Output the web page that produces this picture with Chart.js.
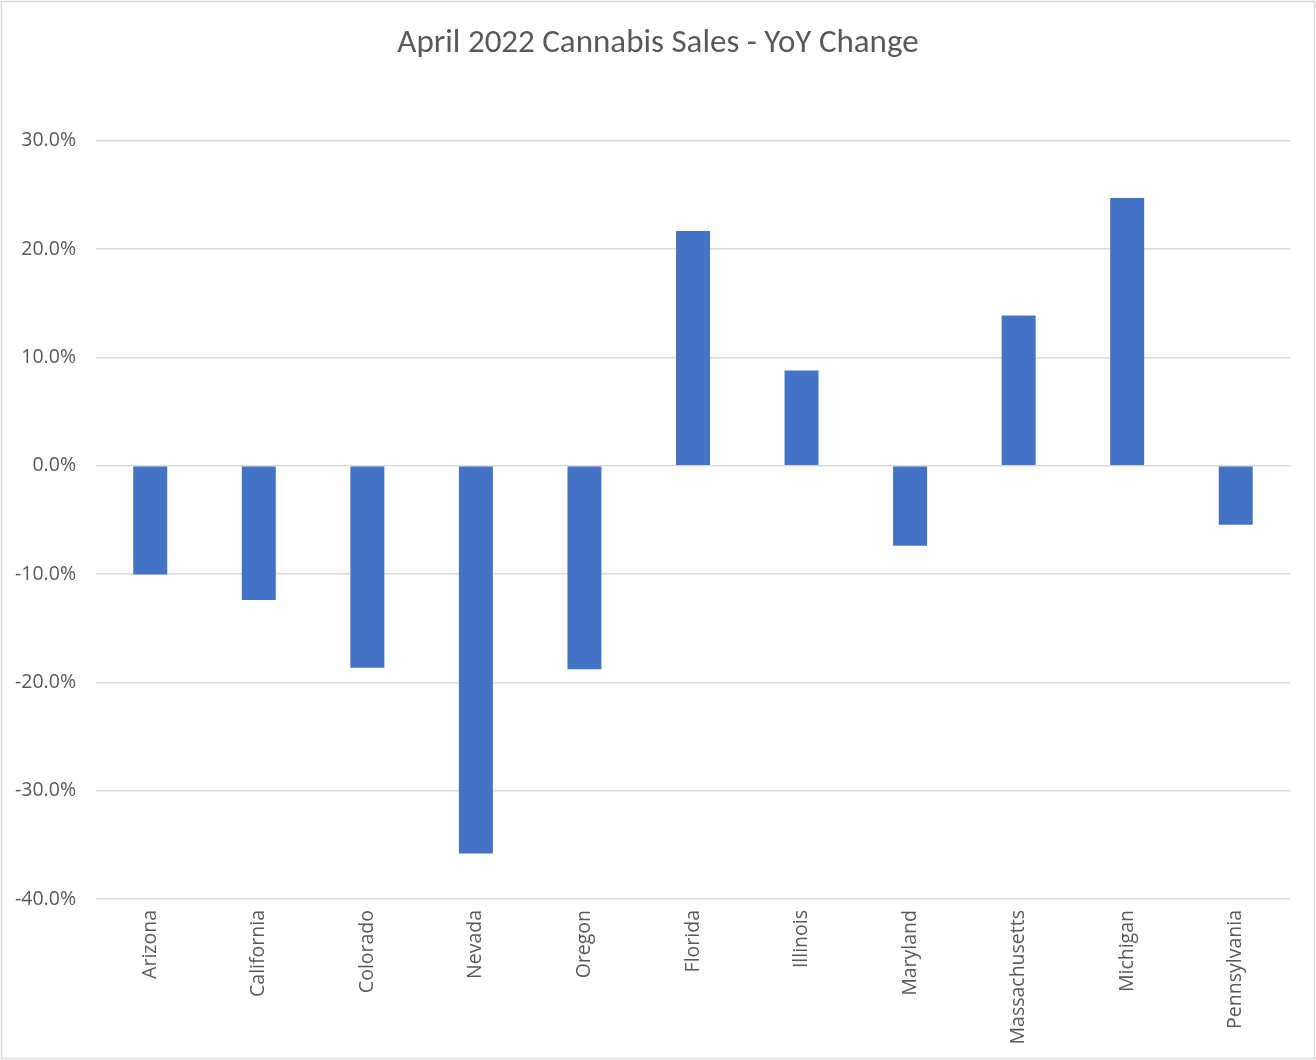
<!DOCTYPE html>
<html>
<head>
<meta charset="utf-8">
<title>April 2022 Cannabis Sales - YoY Change</title>
<script src="https://cdn.jsdelivr.net/npm/chart.js@4.4.1/dist/chart.umd.min.js"></script>
<style>
	html, body { margin: 0; padding: 0; background: #fff; }
	#wrap { position: relative; width: 1316px; height: 1060px; }
</style>
</head>
<body>
<div id="wrap"><canvas id="myChart"></canvas></div>
<script>

var states = ["Arizona", "California", "Colorado", "Nevada", "Oregon", "Florida", "Illinois", "Maryland", "Massachusetts", "Michigan", "Pennsylvania"];
var yoyChange = [-0.1005, -0.124, -0.1865, -0.358, -0.188, 0.2166, 0.0877, -0.0739, 0.1385, 0.247, -0.0545];
var yTicks = [0.3, 0.2, 0.1, 0, -0.1, -0.2, -0.3, -0.4];

var textColor = '#595959';
var gridColor = '#d9d9d9';

Chart.defaults.font.family = "'Open Sans', sans-serif";
Chart.defaults.color = textColor;

// light frame around the whole chart
const framePlugin = {
	id: 'frame',
	afterDraw(chart){
		const ctx = chart.ctx;
		ctx.save();
		ctx.strokeStyle = '#d9d9d9';
		ctx.lineWidth = 1.5;
		ctx.strokeRect(1.5, 1.5, chart.width - 3, chart.height - 3);
		ctx.restore();
	}
};

const ctx = document.getElementById('myChart').getContext('2d');
const chart = new Chart(ctx, {
	type: 'bar',
	data: {
		labels: states,
		datasets: [{
			label: 'YoY Change',
			data: yoyChange,
			backgroundColor: '#4472C4',
			borderWidth: 0,
			barPercentage: 0.62,
			categoryPercentage: 0.505
		}]
	},
	options: {
		responsive: true,
		maintainAspectRatio: false,
		animation: false,
		layout: {
			padding: 0
		},
		plugins: {
			legend: { display: false },
			tooltip: { enabled: false },
			title: {
				display: true,
				text: 'April 2022 Cannabis Sales - YoY Change',
				color: textColor,
				font: { family: "Carlito, sans-serif", size: 33, weight: 'normal' },
				padding: { top: 24, bottom: 77 }
			}
		},
		scales: {
			x: {
				grid: { display: false, drawTicks: false },
				border: { display: false },
				ticks: {
					color: textColor,
					font: { size: 19.5 },
					maxRotation: 90,
					minRotation: 90,
					autoSkip: false,
					padding: 11
				},
				afterFit(scale){ scale.height = 161; }
			},
			y: {
				min: -0.4,
				max: 0.3,
				grid: { color: gridColor, lineWidth: 1.5, drawTicks: false },
				border: { display: false },
				afterBuildTicks(scale){
					scale.ticks = yTicks.map(function(v){ return { value: v }; });
				},
				ticks: {
					color: textColor,
					font: { size: 19.5 },
					padding: 20,
					callback(value){
						return (value * 100).toFixed(1) + '%';
					}
				},
				afterFit(scale){ scale.width = 96; }
			},
			// empty axis that only keeps the right margin, so the title stays centred on the page
			yRight: {
				position: 'right',
				grid: { display: false, drawTicks: false },
				border: { display: false },
				ticks: { display: false },
				afterFit(scale){ scale.width = 26; }
			}
		}
	},
	plugins: [framePlugin]
});

</script>
</body>
</html>
